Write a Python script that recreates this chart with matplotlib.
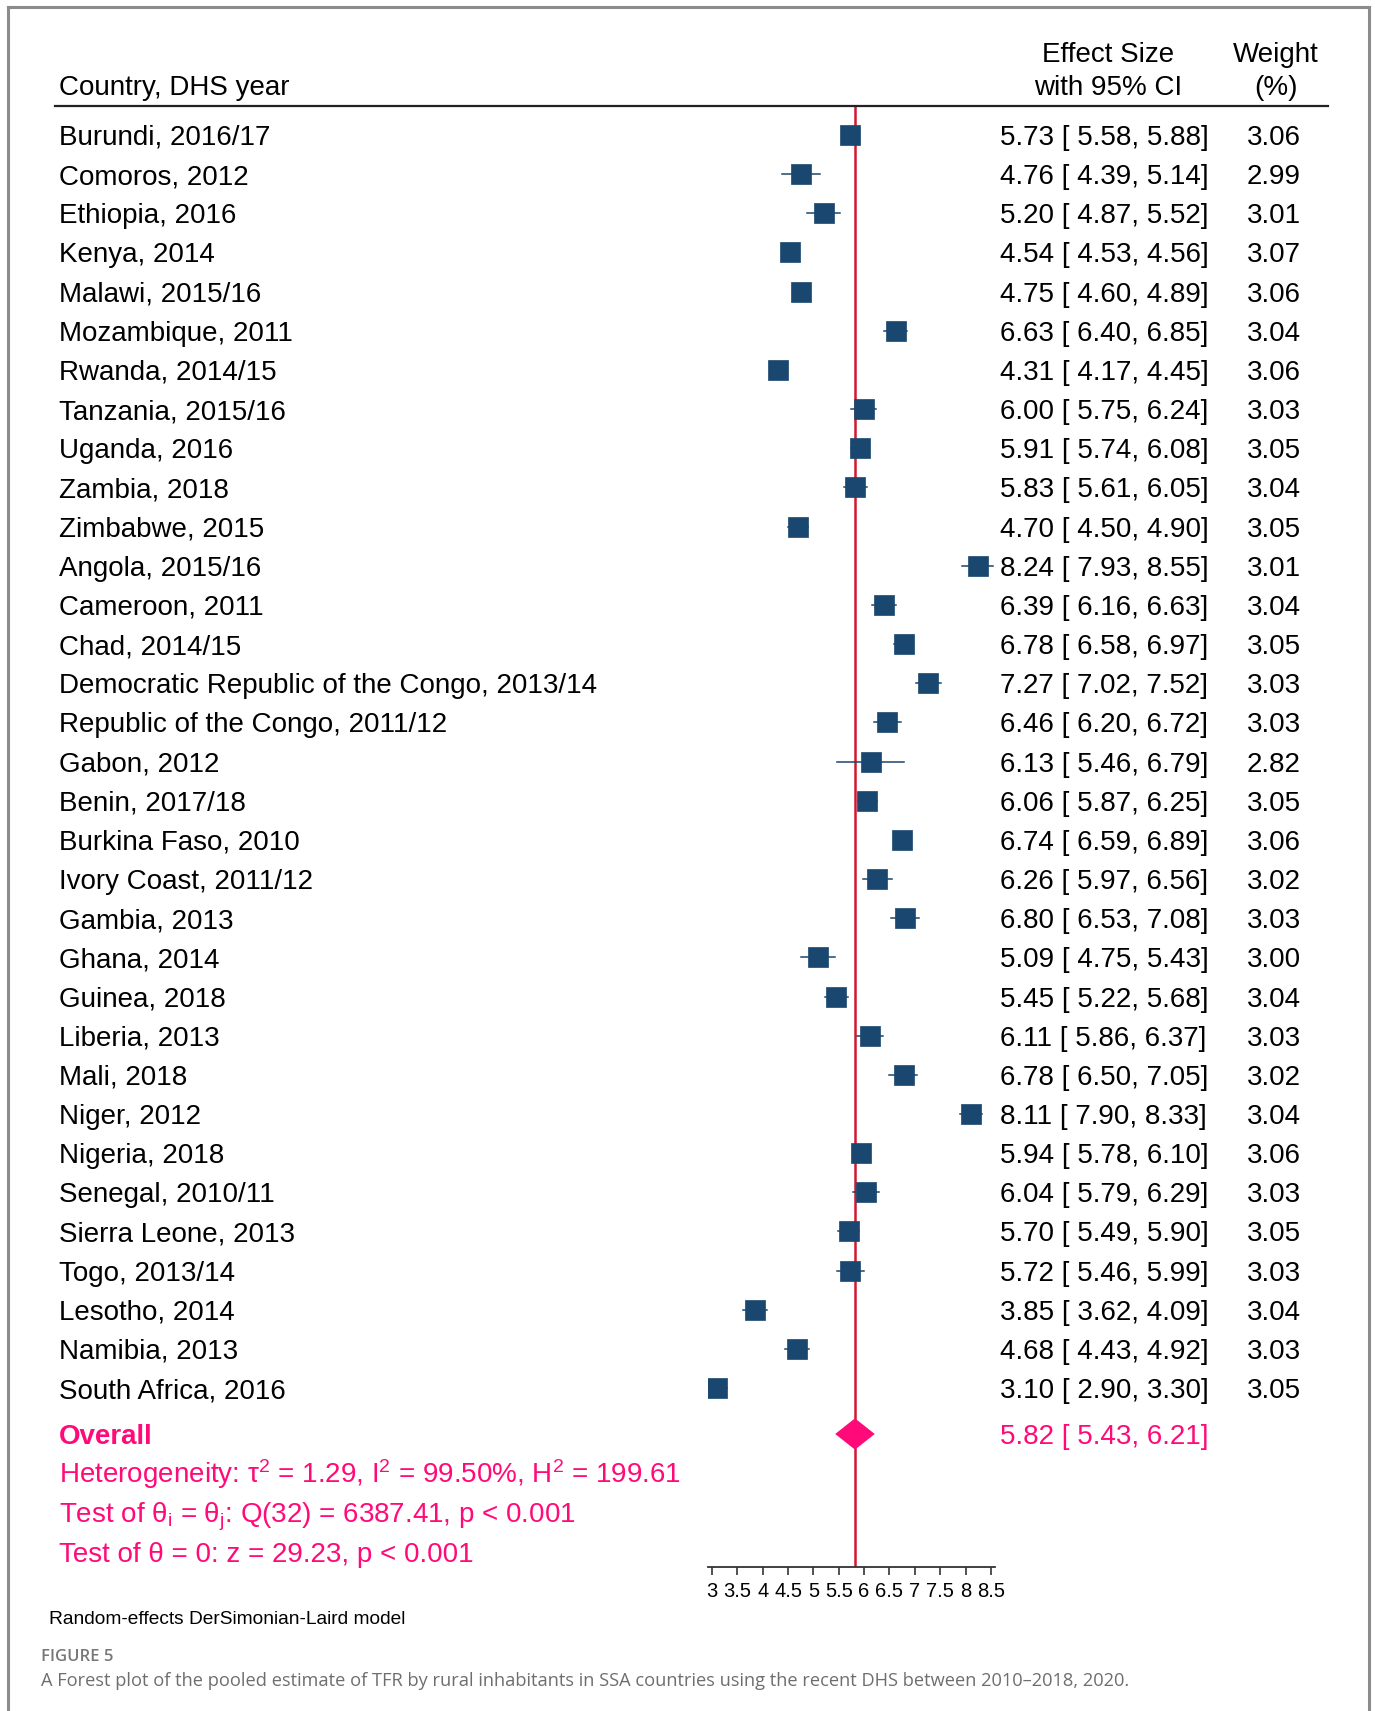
import matplotlib
matplotlib.use("Agg")
import matplotlib.pyplot as plt
import matplotlib.transforms as mtransforms
import numpy as np

plt.rcParams['font.family'] = ['Liberation Sans', 'DejaVu Sans']
plt.rcParams['mathtext.fontset'] = 'custom'
plt.rcParams['mathtext.rm'] = 'Liberation Sans'
plt.rcParams['mathtext.it'] = 'Liberation Sans:italic'
plt.rcParams['mathtext.bf'] = 'Liberation Sans:bold'

# ---------------- data ----------------
countries = [
    "Burundi, 2016/17", "Comoros, 2012", "Ethiopia, 2016", "Kenya, 2014",
    "Malawi, 2015/16", "Mozambique, 2011", "Rwanda, 2014/15", "Tanzania, 2015/16",
    "Uganda, 2016", "Zambia, 2018", "Zimbabwe, 2015", "Angola, 2015/16",
    "Cameroon, 2011", "Chad, 2014/15", "Democratic Republic of the Congo, 2013/14",
    "Republic of the Congo, 2011/12", "Gabon, 2012", "Benin, 2017/18",
    "Burkina Faso, 2010", "Ivory Coast, 2011/12", "Gambia, 2013", "Ghana, 2014",
    "Guinea, 2018", "Liberia, 2013", "Mali, 2018", "Niger, 2012", "Nigeria, 2018",
    "Senegal, 2010/11", "Sierra Leone, 2013", "Togo, 2013/14", "Lesotho, 2014",
    "Namibia, 2013", "South Africa, 2016",
]
effect = [5.73, 4.76, 5.20, 4.54, 4.75, 6.63, 4.31, 6.00, 5.91, 5.83, 4.70, 8.24,
          6.39, 6.78, 7.27, 6.46, 6.13, 6.06, 6.74, 6.26, 6.80, 5.09, 5.45, 6.11,
          6.78, 8.11, 5.94, 6.04, 5.70, 5.72, 3.85, 4.68, 3.10]
ci_low = [5.58, 4.39, 4.87, 4.53, 4.60, 6.40, 4.17, 5.75, 5.74, 5.61, 4.50, 7.93,
          6.16, 6.58, 7.02, 6.20, 5.46, 5.87, 6.59, 5.97, 6.53, 4.75, 5.22, 5.86,
          6.50, 7.90, 5.78, 5.79, 5.49, 5.46, 3.62, 4.43, 2.90]
ci_high = [5.88, 5.14, 5.52, 4.56, 4.89, 6.85, 4.45, 6.24, 6.08, 6.05, 4.90, 8.55,
           6.63, 6.97, 7.52, 6.72, 6.79, 6.25, 6.89, 6.56, 7.08, 5.43, 5.68, 6.37,
           7.05, 8.33, 6.10, 6.29, 5.90, 5.99, 4.09, 4.92, 3.30]
weights = [3.06, 2.99, 3.01, 3.07, 3.06, 3.04, 3.06, 3.03, 3.05, 3.04, 3.05, 3.01,
           3.04, 3.05, 3.03, 3.03, 2.82, 3.05, 3.06, 3.02, 3.03, 3.00, 3.04, 3.03,
           3.02, 3.04, 3.06, 3.03, 3.05, 3.03, 3.04, 3.03, 3.05]
overall = [5.82, 5.43, 6.21]  # estimate, low, high
xticks = [3, 3.5, 4, 4.5, 5, 5.5, 6, 6.5, 7, 7.5, 8, 8.5]
het_lines = [
    r"Heterogeneity: τ$^{\mathrm{2}}$ = 1.29, I$^{\mathrm{2}}$ = 99.50%, H$^{\mathrm{2}}$ = 199.61",
    r"Test of θ$_{\mathrm{i}}$ = θ$_{\mathrm{j}}$: Q(32) = 6387.41, p < 0.001",
    "Test of θ = 0: z = 29.23, p < 0.001",
]

# ---------------- layout ----------------
W, H = 1375, 1711
DPI = 100
fig = plt.figure(figsize=(W / DPI, H / DPI), dpi=DPI)
fig.patch.set_facecolor("white")

row0_px = 135.0
row_h = 39.16
def idx(p):
    return (p - row0_px) / row_h

ax_top_px, ax_bot_px = 106.0, 1567.0
px_per_unit = 50.7
x3_px = 712.0
pad = 0.08
xmin, xmax = 3 - pad, 8.5 + pad
left_px = x3_px - pad * px_per_unit
width_px = (xmax - xmin) * px_per_unit
ax = fig.add_axes([left_px / W, 1 - ax_bot_px / H, width_px / W, (ax_bot_px - ax_top_px) / H])
ax.set_xlim(xmin, xmax)
ax.set_ylim(idx(ax_bot_px), idx(ax_top_px))
ax.patch.set_alpha(0)
for s in ["top", "right", "left"]:
    ax.spines[s].set_visible(False)
ax.spines["bottom"].set_linewidth(1.3)
ax.spines["bottom"].set_color("#333333")
ax.set_yticks([])
ax.set_xticks(xticks)
ax.set_xticklabels([("%g" % t) for t in xticks])
ax.tick_params(axis="x", direction="out", length=6, width=1.2, color="#333333",
               labelsize=14.5, pad=5)

navy = "#1a476f"
red = "#d0182f"
pink = "#ff0a78"

n = len(countries)
rows = np.arange(n)
wmax = max(weights)
for i in range(n):
    ax.plot([ci_low[i], ci_high[i]], [rows[i], rows[i]], color=navy, lw=1.1, zorder=2)
    ms = 14.6 * np.sqrt(weights[i] / wmax)
    ax.plot(effect[i], rows[i], marker="s", ms=ms, color=navy, mec=navy, mew=0.5,
            ls="none", zorder=3)

ax.axvline(overall[0], color=red, lw=1.8, zorder=1)

ov_row = idx(1434)
dh = 0.40
ax.fill([overall[1], overall[0], overall[2], overall[0]],
        [ov_row, ov_row - dh, ov_row, ov_row + dh], color=pink, zorder=4, lw=0)

# ---------------- text ----------------
fs = 20
base_off = 10.0 / row_h   # baseline sits ~10 px below the visual centre of caps
tr_left = mtransforms.blended_transform_factory(fig.transFigure, ax.transData)
xl = 59 / W
xe = 1000 / W
xw = 1301 / W
for i in range(n):
    yb = rows[i] + base_off
    fig.text(xl, yb, countries[i], transform=tr_left, fontsize=fs, va="baseline", ha="left")
    fig.text(xe, yb, "%.2f [ %.2f, %.2f]" % (effect[i], ci_low[i], ci_high[i]),
             transform=tr_left, fontsize=fs, va="baseline", ha="left")
    fig.text(xw, yb, "%.2f" % weights[i], transform=tr_left, fontsize=fs,
             va="baseline", ha="right")

fig.text(xl, ov_row + base_off, "Overall", transform=tr_left, fontsize=fs, va="baseline",
         ha="left", color=pink, fontweight="bold")
fig.text(xe, ov_row + base_off, "%.2f [ %.2f, %.2f]" % tuple(overall), transform=tr_left,
         fontsize=fs, va="baseline", ha="left", color=pink)
het_px = [1473, 1512.5, 1552]
for k, line in enumerate(het_lines):
    fig.text(xl, idx(het_px[k]) + base_off, line, transform=tr_left, fontsize=fs,
             va="baseline", ha="left", color=pink)

# header
def fy(p):
    return 1 - p / H
fig.text(59 / W, fy(85 + 10), "Country, DHS year", fontsize=fs, va="baseline", ha="left")
fig.text(1108 / W, fy(52 + 10), "Effect Size", fontsize=fs, va="baseline", ha="center")
fig.text(1108 / W, fy(85 + 10), "with 95% CI", fontsize=fs, va="baseline", ha="center")
fig.text(1276 / W, fy(52 + 10), "Weight", fontsize=fs, va="baseline", ha="center")
fig.text(1276 / W, fy(85 + 10), "(%)", fontsize=fs, va="baseline", ha="center")
fig.add_artist(plt.Line2D([55 / W, 1328 / W], [fy(106), fy(106)], color="#222222", lw=1.6))

fig.text(49 / W, fy(1619), "Random-effects DerSimonian-Laird model", fontsize=13.8,
         va="center", ha="left")

# border
bc = "#8c8c8c"
fig.add_artist(plt.Line2D([8 / W, 1369 / W], [fy(7), fy(7)], color=bc, lw=2.2))
fig.add_artist(plt.Line2D([8 / W, 8 / W], [fy(7), 0], color=bc, lw=2.2))
fig.add_artist(plt.Line2D([1369 / W, 1369 / W], [fy(7), 0], color=bc, lw=2.2))

fig.text(41 / W, fy(1657), "FIGURE 5", fontsize=12, va="center", ha="left",
         color="#777777", family="Open Sans", fontweight="semibold")
fig.text(41 / W, fy(1681),
         "A Forest plot of the pooled estimate of TFR by rural inhabitants in SSA countries "
         "using the recent DHS between 2010\u20132018, 2020.",
         fontsize=13.15, va="center", ha="left", color="#6e6e6e", family="Open Sans")

fig.savefig("out.png", dpi=DPI, facecolor="white")
